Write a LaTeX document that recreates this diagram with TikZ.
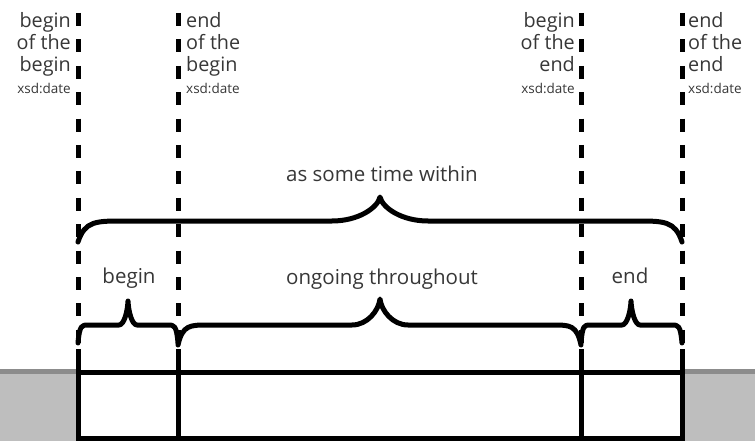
\documentclass[tikz,border=0pt]{standalone}
\usepackage{fontspec}
\setmainfont{Open Sans}
\usetikzlibrary{positioning}
\definecolor{band}{RGB}{190,190,190}
\definecolor{bandedge}{RGB}{140,140,140}
\definecolor{ink}{RGB}{55,55,55}
\tikzset{
  edge/.style={line width=5pt},
  guide/.style={edge,dash pattern=on 13pt off 13.4pt},
  curly/.style={line width=5pt,line join=round,line cap=round},
  boundtext/.style={font=\fontsize{19.8}{22}\selectfont,text=ink,inner sep=0pt,align=#1},
  boundtext/.default=right,
  spantext/.style={font=\fontsize{20.5}{22}\selectfont,text=ink,inner sep=0pt,anchor=base},
}
\newcommand\xsd{{\fontsize{13.5}{14}\selectfont xsd:date}}
% #1 left, #2 right, #3 tip x, #4 end y, #5 bar y, #6 tip y, #7 left bend, #8 right bend, #9 tip half width
\newcommand\curlybrace[9]{%
  \draw[curly] (#1,#4) .. controls (#1+0.15*#7,#5) and (#1+0.4*#7,#5) .. (#1+#7,#5)
    -- (#3-#9,#5) .. controls (#3-0.45*#9,#5) and (#3-0.05*#9,#5-0.55*#5+0.55*#6) .. (#3,#6)
    .. controls (#3+0.05*#9,#5-0.55*#5+0.55*#6) and (#3+0.45*#9,#5) .. (#3+#9,#5)
    -- (#2-#8,#5) .. controls (#2-0.4*#8,#5) and (#2-0.15*#8,#5) .. (#2,#4);}

\begin{document}
\begin{tikzpicture}[x=1pt,y=-1pt]
  \useasboundingbox (0,0) rectangle (755,441);
  % grey ground outside the interval
  \fill[band] (0,369) rectangle (78,441);
  \fill[band] (682,369) rectangle (755,441);
  \draw[bandedge,line width=5pt] (0,371.5) -- (78,371.5);
  \draw[bandedge,line width=5pt] (682,371.5) -- (755,371.5);
  % the four time points
  \foreach \x/\n in {78/bb,178/eb,581/be,682/ee} {
    \coordinate (\n-top) at (\x,13);
    \coordinate (\n-low) at (\x,343);
    \coordinate (\n-foot) at (\x,349);
    \coordinate (\n-bottom) at (\x,441);
    \draw[guide] (\n-top) -- (\n-low);
    \draw[edge] (\n-foot) -- (\n-bottom);
  }
  \draw[edge] (bb-foot |- 0,372) -- (ee-foot |- 0,372);
  \draw[edge] (bb-foot |- 0,438.5) -- (ee-foot |- 0,438.5);
  % labels of the time points
  \node[boundtext=right,anchor=north east] (bob) at (71,12.5) {begin\\of the\\begin\\\xsd};
  \node[boundtext=left,anchor=north west] (eob) at (186,12.5) {end\\of the\\begin\\\xsd};
  \node[boundtext=right,anchor=north east] (boe) at (575,12.5) {begin\\of the\\end\\\xsd};
  \node[boundtext=left,anchor=north west] (eoe) at (688,12.5) {end\\of the\\end\\\xsd};
  % braces
  \curlybrace{78}{682}{380}{242}{221}{197}{45}{45}{48}
  \curlybrace{78}{178}{128}{343}{325}{301}{10}{10}{9}
  \curlybrace{178}{581}{380}{345}{325}{299}{30}{28}{28}
  \curlybrace{581}{682}{631}{343}{325}{301}{9}{10}{9}
  \node[spantext] (within) at (382,182) {as some time within};
  \node[spantext] (begin) at (129,283) {begin};
  \node[spantext] (ongoing) at (382,284) {ongoing throughout};
  \node[spantext] (end) at (630,283) {end};
\end{tikzpicture}
\end{document}
